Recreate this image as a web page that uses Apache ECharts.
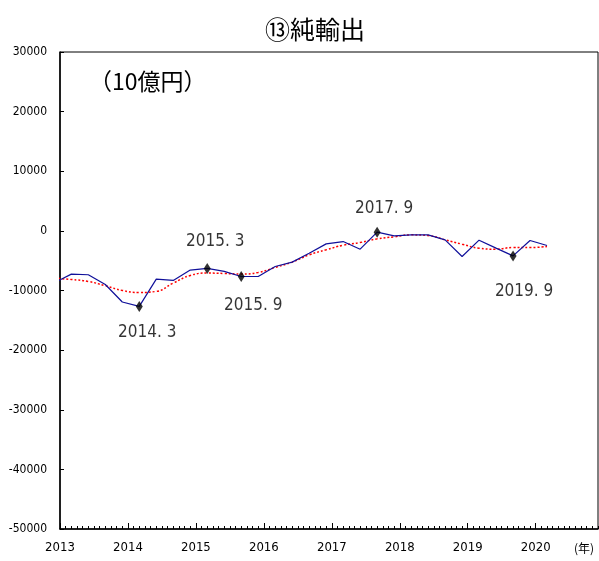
<!DOCTYPE html>
<html><head><meta charset="utf-8">
<script src="https://cdn.jsdelivr.net/npm/echarts@6/dist/echarts.min.js"></script>
<style>html,body{margin:0;padding:0;background:#fff}#c{width:599px;height:561px}</style>
</head><body><div id="c"></div>
<script>
// quarterly periods (year.month)
const quarters = ['2012.12','2013.3','2013.6','2013.9','2013.12','2014.3','2014.6','2014.9','2014.12',
  '2015.3','2015.6','2015.9','2015.12','2016.3','2016.6','2016.9','2016.12','2017.3','2017.6','2017.9',
  '2017.12','2018.3','2018.6','2018.9','2018.12','2019.3','2019.6','2019.9','2019.12','2020.3'];
// 純輸出 (10億円)
const netExports = [-8700,-7250,-7360,-8990,-11930,-12670,-8090,-8310,-6580,
  -6300,-6800,-7650,-7650,-5970,-5240,-3740,-2180,-1790,-3070,-220,
  -840,-670,-670,-1510,-4300,-1560,-2900,-4200,-1620,-2460];
// trend (red dotted)
const trend = [-7950,-8150,-8480,-9200,-9990,-10330,-10150,-8760,-7480,
  -7080,-7140,-7250,-6970,-6140,-5240,-4020,-3180,-2400,-1950,-1340,
  -1000,-670,-780,-1510,-2230,-2900,-3070,-2790,-2790,-2620];
const highlights = ['2014.3','2015.3','2015.9','2017.9','2019.9'];
const yearLabels = ['2013','2014','2015','2016','2017','2018','2019','2020'];

const narrow = "'DejaVu Sans Condensed','Liberation Sans Narrow','Roboto',sans-serif";
const cjk = "'Noto Sans CJK JP',sans-serif";
const toIdx = s => { const [y,m] = s.split('.').map(Number); return (y-2013)*12 + (m-1); };
const labelOffsets = {'2014.3':[8,26],'2015.3':[8,-27],'2015.9':[12,29],'2017.9':[7,-24],'2019.9':[11,36]};

const chart = echarts.init(document.getElementById('c'));
chart.setOption({
  animation:false,
  backgroundColor:'#fff',
  title:{text:'⑬純輸出', left:310, top:12, textAlign:'center',
    textStyle:{fontFamily:cjk, fontSize:25, fontWeight:'normal', color:'#000'}},
  graphic:[
    {type:'text', left:89, top:70, style:{text:'（10億円）', font:"23px 'Noto Sans CJK JP'", fill:'#000'}},
    {type:'text', left:574, top:542, style:{text:'(年)', font:"12px 'Noto Sans CJK JP'", fill:'#000'}}
  ],
  grid:{left:60, right:1, top:52, bottom:32, show:true, borderColor:'#000', borderWidth:1},
  xAxis:[
    {type:'value', min:0, max:95, interval:1, position:'bottom',
      axisLine:{show:true, onZero:false, lineStyle:{color:'#000', width:1.5}},
      axisTick:{show:true, inside:true, length:3, lineStyle:{color:'#000'}},
      axisLabel:{show:false}, splitLine:{show:false}},
    {type:'value', min:0, max:95, interval:12, position:'bottom',
      axisLine:{show:false, onZero:false},
      axisTick:{show:true, inside:true, length:6, lineStyle:{color:'#000'}},
      axisLabel:{show:true, margin:12, color:'#000', fontFamily:narrow, fontSize:13, showMaxLabel:false,
        formatter:(v)=>(v%12===0 ? (yearLabels[v/12] || '') : '')},
      splitLine:{show:false}}
  ],
  yAxis:{type:'value', min:-50000, max:30000, interval:10000,
    axisLine:{show:true, onZero:false, lineStyle:{color:'#000', width:1.5}},
    axisTick:{show:true, inside:true, length:4, lineStyle:{color:'#000'}},
    axisLabel:{color:'#000', fontFamily:narrow, fontSize:12, margin:13, formatter:(v)=>String(v)},
    splitLine:{show:false}},
  series:[
    {type:'line', xAxisIndex:0, data:quarters.map((q,i)=>[toIdx(q), trend[i]]), smooth:true,
      showSymbol:false, clip:true, lineStyle:{color:'#ff0000', width:1.5, type:[2,2]}, z:2},
    {type:'line', xAxisIndex:0, data:quarters.map((q,i)=>[toIdx(q), netExports[i]]),
      showSymbol:false, clip:true, lineStyle:{color:'#10109a', width:1.2}, z:3},
    {type:'scatter', xAxisIndex:0, symbol:'diamond', symbolSize:[7,11], itemStyle:{color:'#000'}, z:4,
      data:highlights.map(h=>{
        const i = quarters.indexOf(h);
        const [y,m] = h.split('.');
        return {value:[toIdx(h), netExports[i]],
          label:{show:true, position:'inside', offset:labelOffsets[h], formatter:y+'. '+m,
            color:'#000', fontFamily:narrow, fontSize:17}};
      })}
  ]
});
</script></body></html>
